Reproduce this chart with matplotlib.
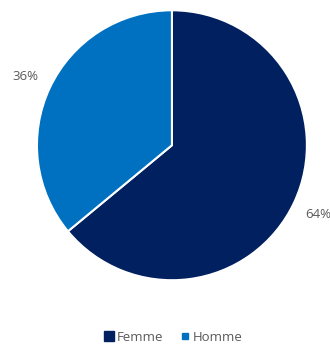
import matplotlib.pyplot as plt
from matplotlib.lines import Line2D

plt.rcParams['font.family'] = ['Open Sans', 'DejaVu Sans']

labels = ['Femme', 'Homme']
values = [64, 36]
colors = ['#002060', '#0070C0']

fig = plt.figure(figsize=(3.3, 3.45), dpi=100)
ax = fig.add_axes([0.112, 0.182, 0.818, 0.794])

wedges, texts, autotexts = ax.pie(
    values, colors=colors, startangle=90, counterclock=False,
    autopct='%1.0f%%', pctdistance=1.2,
    wedgeprops=dict(edgecolor='white', linewidth=1.5),
    textprops=dict(color='#595959', fontsize=9.5),
)
ax.set_xlim(-1, 1)
ax.set_ylim(-1, 1)
ax.set_aspect('equal')

handles = [
    Line2D([], [], marker='s', linestyle='none', markersize=7,
           markerfacecolor=colors[0], markeredgecolor=colors[0]),
    Line2D([], [], marker='s', linestyle='none', markersize=4.5,
           markerfacecolor=colors[1], markeredgecolor=colors[1]),
]
fig.legend(handles, labels, loc='center', bbox_to_anchor=(0.525, 0.023),
           ncol=2, frameon=False, fontsize=9.5, handlelength=0.8,
           handletextpad=0.15, columnspacing=1.3, labelcolor='#595959')

fig.savefig('out.png', dpi=100)
